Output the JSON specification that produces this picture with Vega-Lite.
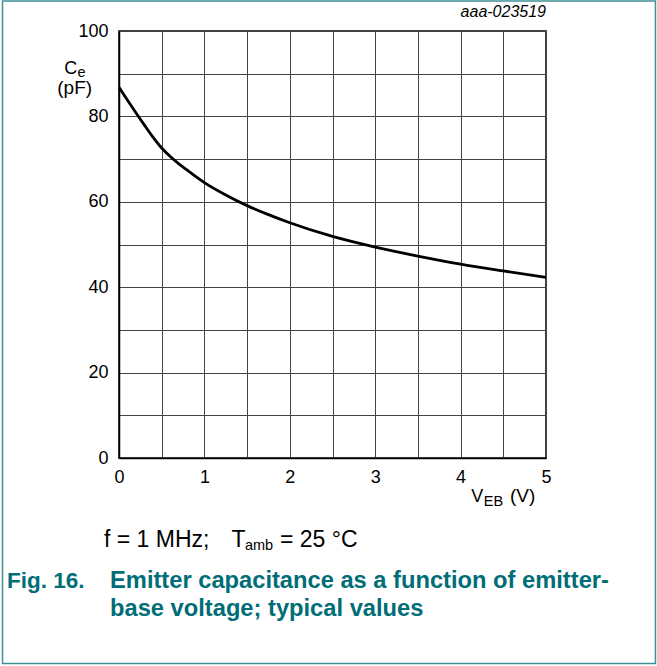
{
  "$schema": "https://vega.github.io/schema/vega-lite/v6.json",
  "width": 427,
  "height": 427,
  "autosize": {"type": "none"},
  "padding": {"left": 119, "top": 31, "right": 111, "bottom": 208},
  "background": "white",
  "config": {
    "view": {"stroke": "black", "strokeWidth": 1.5},
    "font": "Liberation Sans",
    "text": {"font": "Liberation Sans"}
  },
  "layer": [
    {
      "data": {"values": [{"name": "frame"}]},
      "mark": {"type": "rect", "fill": null, "stroke": "#3f8f97", "strokeWidth": 1.5, "clip": false},
      "encoding": {
        "x": {"datum": -1.364, "type": "quantitative", "scale": {"domain": [0, 5], "nice": false}, "title": null},
        "x2": {"datum": 6.282},
        "y": {"datum": 107.03, "type": "quantitative", "scale": {"domain": [0, 100], "nice": false}, "title": null},
        "y2": {"datum": -48.13}
      }
    },
    {
      "data": {"values": [
        {"veb": 0.0, "ce": 86.8},
        {"veb": 0.1, "ce": 83.8},
        {"veb": 0.2, "ce": 80.8},
        {"veb": 0.3, "ce": 77.9},
        {"veb": 0.4, "ce": 75.1},
        {"veb": 0.5, "ce": 72.6},
        {"veb": 0.6, "ce": 70.6},
        {"veb": 0.7, "ce": 68.9},
        {"veb": 0.8, "ce": 67.4},
        {"veb": 0.9, "ce": 65.9},
        {"veb": 1.0, "ce": 64.5},
        {"veb": 1.25, "ce": 61.6},
        {"veb": 1.5, "ce": 59.1},
        {"veb": 1.75, "ce": 57.0},
        {"veb": 2.0, "ce": 55.1},
        {"veb": 2.5, "ce": 51.9},
        {"veb": 3.0, "ce": 49.4},
        {"veb": 3.5, "ce": 47.3},
        {"veb": 4.0, "ce": 45.4},
        {"veb": 4.5, "ce": 43.8},
        {"veb": 5.0, "ce": 42.3}
      ]},
      "mark": {"type": "line", "color": "black", "strokeWidth": 2.8, "interpolate": "monotone"},
      "encoding": {
        "x": {
          "field": "veb", "type": "quantitative",
          "scale": {"domain": [0, 5], "nice": false},
          "title": null,
          "axis": {
            "values": [0, 0.5, 1, 1.5, 2, 2.5, 3, 3.5, 4, 4.5, 5],
            "labelExpr": "datum.value % 1 == 0 ? format(datum.value, 'd') : ''",
            "grid": true, "gridColor": "#444", "gridWidth": 1, "gridOpacity": 1,
            "ticks": false, "domain": true, "domainColor": "black", "domainWidth": 1.5,
            "labelFont": "Liberation Sans", "labelFontSize": 18, "labelColor": "black",
            "labelPadding": 10, "labelFlush": false, "labelOverlap": false
          }
        },
        "y": {
          "field": "ce", "type": "quantitative",
          "scale": {"domain": [0, 100], "nice": false},
          "title": null,
          "axis": {
            "values": [0, 10, 20, 30, 40, 50, 60, 70, 80, 90, 100],
            "labelExpr": "datum.value % 20 == 0 ? format(datum.value, 'd') : ''",
            "grid": true, "gridColor": "#444", "gridWidth": 1, "gridOpacity": 1,
            "ticks": false, "domain": true, "domainColor": "black", "domainWidth": 1.5,
            "labelFont": "Liberation Sans", "labelFontSize": 18, "labelColor": "black",
            "labelPadding": 11, "labelFlush": false, "labelOverlap": false
          }
        }
      }
    },
    {
      "data": {"values": [{"t": "C"}]},
      "mark": {"type": "text", "align": "left", "baseline": "alphabetic", "fontSize": 18, "color": "black"},
      "encoding": {
        "x": {"datum": -0.64, "type": "quantitative", "title": null},
        "y": {"datum": 90.0, "type": "quantitative", "title": null},
        "text": {"field": "t"}
      }
    },
    {
      "data": {"values": [{"t": "e"}]},
      "mark": {"type": "text", "align": "left", "baseline": "alphabetic", "fontSize": 14.5, "color": "black"},
      "encoding": {
        "x": {"datum": -0.486, "type": "quantitative", "title": null},
        "y": {"datum": 89.3, "type": "quantitative", "title": null},
        "text": {"field": "t"}
      }
    },
    {
      "data": {"values": [{"t": "(pF)"}]},
      "mark": {"type": "text", "align": "center", "baseline": "alphabetic", "fontSize": 19, "color": "black"},
      "encoding": {
        "x": {"datum": -0.519, "type": "quantitative", "title": null},
        "y": {"datum": 85.3, "type": "quantitative", "title": null},
        "text": {"field": "t"}
      }
    },
    {
      "data": {"values": [{"t": "V"}]},
      "mark": {"type": "text", "align": "left", "baseline": "alphabetic", "fontSize": 18, "color": "black"},
      "encoding": {
        "x": {"datum": 4.125, "type": "quantitative", "title": null},
        "y": {"datum": -10.3, "type": "quantitative", "title": null},
        "text": {"field": "t"}
      }
    },
    {
      "data": {"values": [{"t": "EB"}]},
      "mark": {"type": "text", "align": "left", "baseline": "alphabetic", "fontSize": 14.5, "color": "black"},
      "encoding": {
        "x": {"datum": 4.272, "type": "quantitative", "title": null},
        "y": {"datum": -11.24, "type": "quantitative", "title": null},
        "text": {"field": "t"}
      }
    },
    {
      "data": {"values": [{"t": "(V)"}]},
      "mark": {"type": "text", "align": "left", "baseline": "alphabetic", "fontSize": 19, "color": "black"},
      "encoding": {
        "x": {"datum": 4.578, "type": "quantitative", "title": null},
        "y": {"datum": -10.3, "type": "quantitative", "title": null},
        "text": {"field": "t"}
      }
    },
    {
      "data": {"values": [{"t": "aaa-023519"}]},
      "mark": {"type": "text", "align": "right", "baseline": "alphabetic", "fontSize": 16, "fontStyle": "italic", "color": "black"},
      "encoding": {
        "x": {"datum": 5.0, "type": "quantitative", "title": null},
        "y": {"datum": 103.28, "type": "quantitative", "title": null},
        "text": {"field": "t"}
      }
    },
    {
      "data": {"values": [{"t": "f = 1 MHz;"}]},
      "mark": {"type": "text", "align": "left", "baseline": "alphabetic", "fontSize": 23, "color": "black"},
      "encoding": {
        "x": {"datum": -0.176, "type": "quantitative", "title": null},
        "y": {"datum": -20.73, "type": "quantitative", "title": null},
        "text": {"field": "t"}
      }
    },
    {
      "data": {"values": [{"t": "T"}]},
      "mark": {"type": "text", "align": "left", "baseline": "alphabetic", "fontSize": 23, "color": "black"},
      "encoding": {
        "x": {"datum": 1.317, "type": "quantitative", "title": null},
        "y": {"datum": -20.73, "type": "quantitative", "title": null},
        "text": {"field": "t"}
      }
    },
    {
      "data": {"values": [{"t": "amb"}]},
      "mark": {"type": "text", "align": "left", "baseline": "alphabetic", "fontSize": 14.5, "color": "black"},
      "encoding": {
        "x": {"datum": 1.475, "type": "quantitative", "title": null},
        "y": {"datum": -21.6, "type": "quantitative", "title": null},
        "text": {"field": "t"}
      }
    },
    {
      "data": {"values": [{"t": "= 25 °C"}]},
      "mark": {"type": "text", "align": "left", "baseline": "alphabetic", "fontSize": 23, "color": "black"},
      "encoding": {
        "x": {"datum": 1.885, "type": "quantitative", "title": null},
        "y": {"datum": -20.73, "type": "quantitative", "title": null},
        "text": {"field": "t"}
      }
    },
    {
      "data": {"values": [{"t": "Fig. 16."}]},
      "mark": {"type": "text", "align": "left", "baseline": "alphabetic", "fontSize": 22.5, "fontWeight": "bold", "color": "#006d77"},
      "encoding": {
        "x": {"datum": -1.311, "type": "quantitative", "title": null},
        "y": {"datum": -30.44, "type": "quantitative", "title": null},
        "text": {"field": "t"}
      }
    },
    {
      "data": {"values": [{"t": "Emitter capacitance as a function of emitter-"}]},
      "mark": {"type": "text", "align": "left", "baseline": "alphabetic", "fontSize": 23.7, "fontWeight": "bold", "color": "#006d77"},
      "encoding": {
        "x": {"datum": -0.105, "type": "quantitative", "title": null},
        "y": {"datum": -30.44, "type": "quantitative", "title": null},
        "text": {"field": "t"}
      }
    },
    {
      "data": {"values": [{"t": "base voltage; typical values"}]},
      "mark": {"type": "text", "align": "left", "baseline": "alphabetic", "fontSize": 23.7, "fontWeight": "bold", "color": "#006d77"},
      "encoding": {
        "x": {"datum": -0.105, "type": "quantitative", "title": null},
        "y": {"datum": -37.0, "type": "quantitative", "title": null},
        "text": {"field": "t"}
      }
    }
  ]
}
